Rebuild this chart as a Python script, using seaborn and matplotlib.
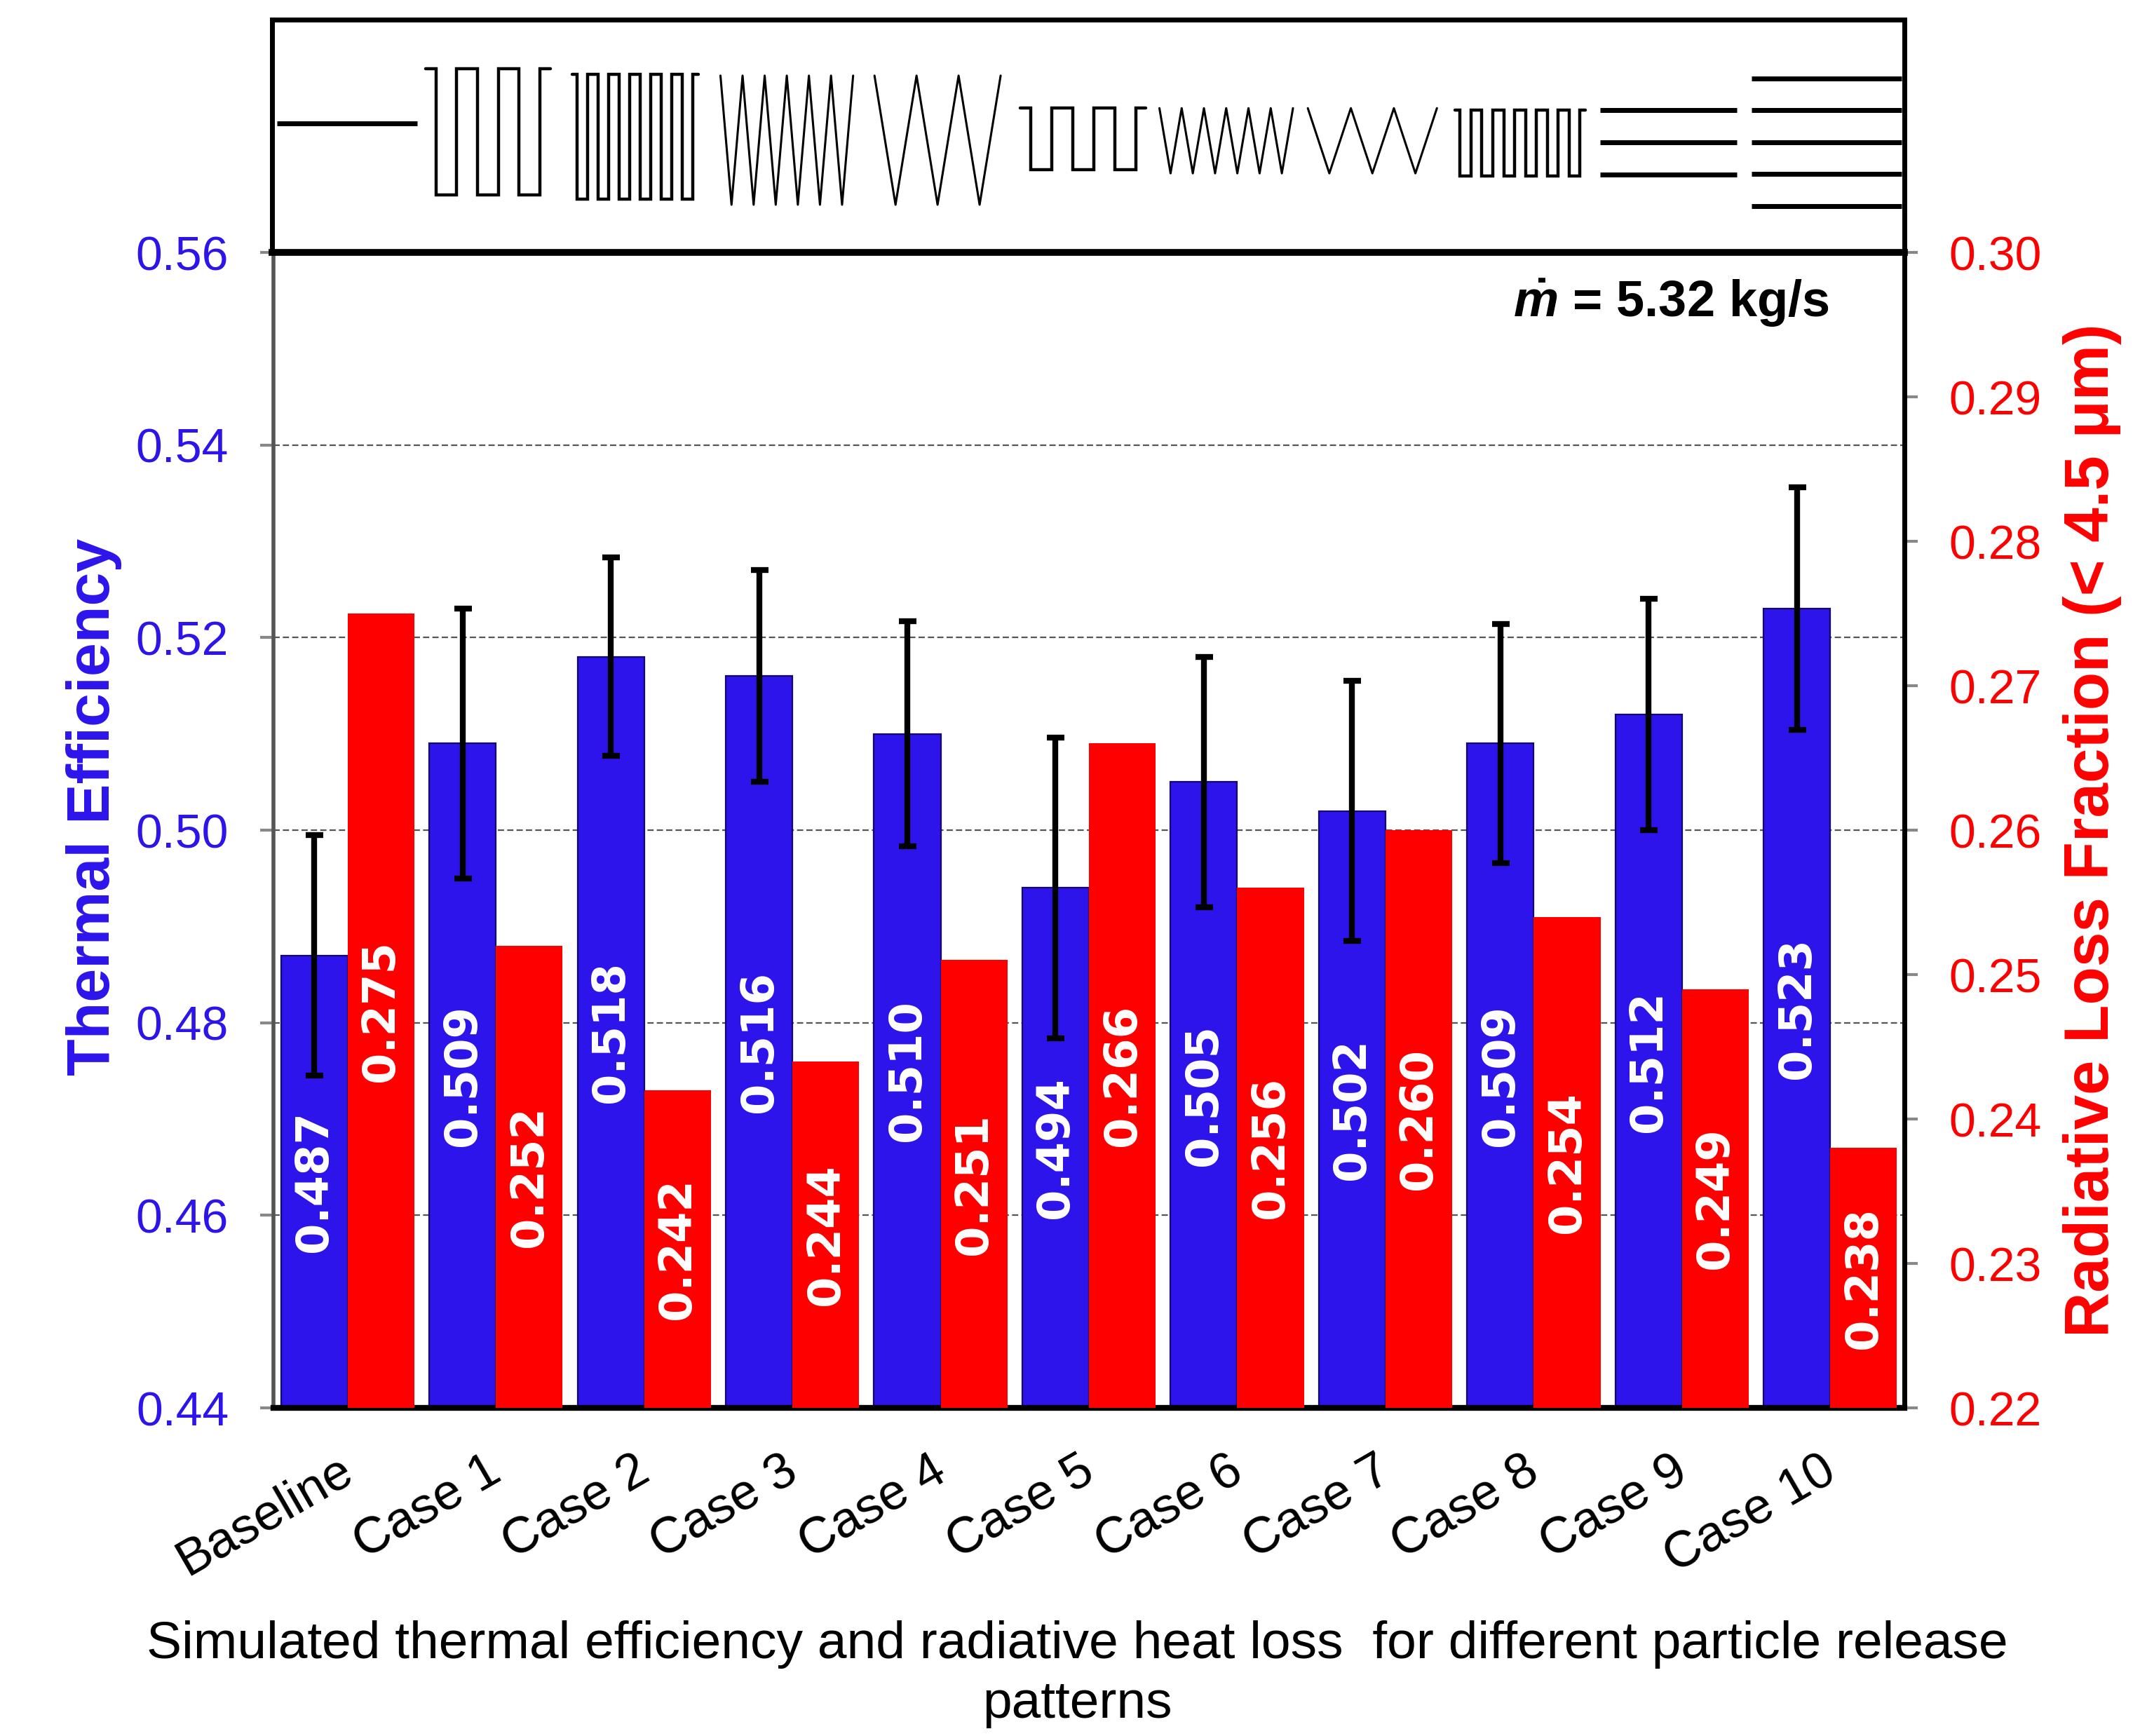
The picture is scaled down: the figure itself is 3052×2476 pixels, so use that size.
import numpy as np
import pandas as pd
import matplotlib
matplotlib.use('Agg')
import matplotlib.pyplot as plt
import seaborn as sns

# data
cases = ['Baseline', 'Case 1', 'Case 2', 'Case 3', 'Case 4', 'Case 5',
         'Case 6', 'Case 7', 'Case 8', 'Case 9', 'Case 10']
efficiency = [0.487, 0.509, 0.518, 0.516, 0.510, 0.494, 0.505, 0.502, 0.509, 0.512, 0.523]
efficiency_err = [0.0125, 0.014, 0.0103, 0.011, 0.0117, 0.0156, 0.013, 0.0135, 0.0124, 0.012, 0.0126]
rad_loss = [0.275, 0.252, 0.242, 0.244, 0.251, 0.266, 0.256, 0.260, 0.254, 0.249, 0.238]
eff_ticks = [0.44, 0.46, 0.48, 0.50, 0.52, 0.54, 0.56]
loss_ticks = [0.22, 0.23, 0.24, 0.25, 0.26, 0.27, 0.28, 0.29, 0.30]

# release pattern sketches for the strip above the bars
pattern_kind = ['line', 'square', 'square', 'zigzag', 'zigzag', 'square',
                'zigzag', 'zigzag', 'square', 'lines', 'lines']
pattern_count = [1, 3, 6, 7, 4, 3, 7, 4, 6, 3, 5]

BLUE = '#2D14EB'
RED = '#FF0000'

sns.set_style('white')
plt.rcParams['font.family'] = ['Liberation Sans', 'DejaVu Sans']
plt.rcParams['text.color'] = 'black'
plt.rcParams['axes.labelcolor'] = 'black'
plt.rcParams['xtick.color'] = 'black'
plt.rcParams['ytick.color'] = 'black'
plt.rcParams['mathtext.fontset'] = 'custom'
plt.rcParams['mathtext.it'] = 'Liberation Sans:italic:bold'
plt.rcParams['mathtext.rm'] = 'Liberation Sans:bold'

df = pd.DataFrame({'pos': np.arange(len(cases)), 'case': cases,
                   'eff': efficiency, 'loss': rad_loss})

fig = plt.figure(figsize=(15.26, 12.38), dpi=200)
ax = fig.add_axes([0.1278, 0.1890, 0.7621, 0.6656])
ax2 = ax.twinx()

sns.barplot(x=df['pos'] - 0.225, y=df['eff'], native_scale=True, width=0.45,
            color=BLUE, saturation=1, edgecolor='#140870', linewidth=0.8, ax=ax)
sns.barplot(x=df['pos'] + 0.225, y=df['loss'], native_scale=True, width=0.45,
            color=RED, saturation=1, linewidth=0, ax=ax2)
ax.errorbar(df['pos'] - 0.225, df['eff'], yerr=efficiency_err, fmt='none',
            ecolor='black', elinewidth=3, capsize=4.5, capthick=3, zorder=5)

ax.set_ylim(0.44, 0.56)
ax2.set_ylim(0.22, 0.30)
ax.set_xlim(-0.5, 10.5)

# value labels in the middle of each bar
for i, row in df.iterrows():
    ax.text(row['pos'] - 0.225, (0.44 + row['eff']) / 2, f"{row['eff']:.3f}",
            rotation=90, ha='center', va='center', color='white', fontsize=23,
            fontweight='bold', family='DejaVu Sans', zorder=6)
    ax2.text(row['pos'] + 0.225, (0.22 + row['loss']) / 2, f"{row['loss']:.3f}",
             rotation=90, ha='center', va='center', color='white', fontsize=23,
             fontweight='bold', family='DejaVu Sans', zorder=6)

ax.set_yticks(eff_ticks)
ax.set_yticklabels([f'{t:.2f}' for t in eff_ticks])
ax2.set_yticks(loss_ticks)
ax2.set_yticklabels([f'{t:.2f}' for t in loss_ticks])
ax.set_xticks(np.arange(-0.5, 11, 1))
ax.set_xticklabels([])
ax.set_xticks(df['pos'] - 0.07, cases, minor=True)
for lbl in ax.get_xticklabels(minor=True):
    lbl.set_rotation(30)
    lbl.set_ha('right')
    lbl.set_rotation_mode('anchor')

ax.tick_params(axis='y', direction='out', length=7, width=1.5, color='#888888',
               labelcolor=BLUE, labelsize=24.5, pad=16)
ax2.tick_params(axis='y', direction='out', length=7, width=1.5, color='#888888',
                labelcolor=RED, labelsize=24.5, pad=16)
ax.tick_params(axis='x', which='major', direction='out', length=8, width=1.5,
               color='#888888')
ax.tick_params(axis='x', which='minor', length=0, labelsize=26, pad=20,
               labelcolor='black')

ax.set_axisbelow(True)
ax.yaxis.grid(True, linestyle=(0, (4, 2)), color='#555555', linewidth=0.8)
ax.xaxis.grid(False)

for s in ['top', 'right']:
    ax.spines[s].set_visible(False)
ax.spines['left'].set_color('#555555')
ax.spines['left'].set_linewidth(2)
ax.spines['bottom'].set_color('black')
ax.spines['bottom'].set_linewidth(3)
for s in ['top', 'left', 'bottom']:
    ax2.spines[s].set_visible(False)
ax2.spines['right'].set_color('black')
ax2.spines['right'].set_linewidth(2.5)

ax.set_ylabel('Thermal Efficiency', color=BLUE, fontsize=31, fontweight='bold')
ax.yaxis.set_label_coords(-0.093, 0.52)
ax2.set_ylabel('Radiative Loss Fraction (< 4.5 μm)', color=RED, fontsize=32,
               fontweight='bold')
ax2.yaxis.set_label_coords(1.097, 0.50)
ax.set_xlabel('Simulated thermal efficiency and radiative heat loss  for different particle release\npatterns',
              fontsize=27, color='black', linespacing=1.3)
ax.xaxis.set_label_coords(0.493, -0.184)

ax.text(0.954, 0.956, r'$\dot{m}$ = 5.32 kg/s', transform=ax.transAxes,
        ha='right', va='center', fontsize=26, fontweight='bold', color='black')

# strip with the release pattern sketches
box = fig.add_axes([0.1271, 0.8546, 0.7628, 0.134])
box.set_xlim(-0.5, 10.5)
box.set_ylim(0, 1)
box.set_xticks([])
box.set_yticks([])
for s in box.spines.values():
    s.set_color('black')
    s.set_linewidth(2.5)
box.spines['bottom'].set_linewidth(3.5)

left_off = [-0.465, -0.465, -0.479, -0.478, -0.44, -0.457, -0.52, -0.52, -0.53, -0.55, -0.53]
right_off = [0.48, 0.375, 0.372, 0.416, 0.41, 0.39, 0.38, 0.35, 0.35, 0.37, 0.48]
hi_lo = [(0.556, 0.556), (0.789, 0.246), (0.766, 0.228), (0.76, 0.205), (0.76, 0.205),
         (0.622, 0.357), (0.62, 0.34), (0.62, 0.34), (0.611, 0.33), (0.611, 0.336),
         (0.749, 0.199)]

for i, kind in enumerate(pattern_kind):
    x0, x1 = i + left_off[i], i + right_off[i]
    hi, lo = hi_lo[i]
    n = pattern_count[i]
    if kind == 'line':
        box.plot([x0, x1], [hi, hi], color='black', lw=2.5, solid_capstyle='butt')
    elif kind == 'lines':
        for yy in np.linspace(lo, hi, n):
            box.plot([x0, x1], [yy, yy], color='black', lw=2.5, solid_capstyle='butt')
    elif kind == 'zigzag':
        xs = np.linspace(x0, x1, 2 * n - 1)
        ys = [hi if k % 2 == 0 else lo for k in range(2 * n - 1)]
        box.plot(xs, ys, color='black', lw=1.1)
    else:
        w = (x1 - x0) / (2 * n)
        xs, ys = [x0], [hi]
        level = hi
        for k in range(2 * n):
            e = x0 + w / 2 + w * k
            other = lo if level == hi else hi
            xs += [e, e]
            ys += [level, other]
            level = other
        xs.append(x1)
        ys.append(hi)
        box.plot(xs, ys, color='black', lw=1.6, solid_joinstyle='miter')

fig.savefig('out.png', dpi=200)
